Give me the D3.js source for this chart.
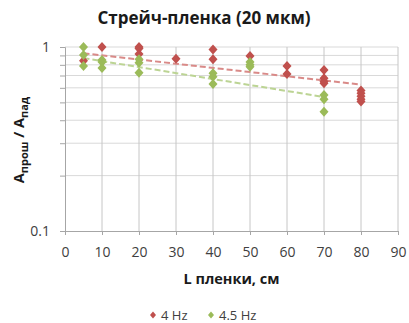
<!DOCTYPE html>
<html>
<head>
<meta charset="utf-8">
<script src="https://cdn.jsdelivr.net/npm/d3@7"></script>
<style>
  body { margin: 0; background: #fff; }
  text { font-family: "Open Sans", sans-serif; fill: #404040; }
</style>
</head>
<body>
<svg id="chart" width="409" height="323"></svg>
<script>
// 4 Hz series
const len4 = [5, 10, 20, 20, 20, 30, 40, 40, 50, 60, 60, 70, 70, 70, 70, 80, 80, 80, 80, 80]
const amp4 = [0.842, 1.0, 1.0, 0.98, 0.916, 0.864, 0.97, 0.857, 0.893, 0.788, 0.713, 0.75, 0.676, 0.65, 0.635, 0.58, 0.56, 0.54, 0.52, 0.505]
// 4.5 Hz series
const len45 = [5, 5, 5, 10, 10, 10, 20, 20, 20, 40, 40, 40, 50, 50, 50, 70, 70, 70]
const amp45 = [1.0, 0.905, 0.788, 0.85, 0.83, 0.77, 0.857, 0.82, 0.725, 0.72, 0.69, 0.63, 0.83, 0.80, 0.78, 0.548, 0.52, 0.445]
// exponential trend lines, endpoints
const trend4 = [[5, 0.924], [80, 0.625]]
const trend45 = [[5, 0.87], [70, 0.535]]

const xTicks = [0, 10, 20, 30, 40, 50, 60, 70, 80, 90]
const yMajor = [0.1, 1]
const yMinor = [0.2, 0.3, 0.4, 0.5, 0.6, 0.7, 0.8, 0.9]

const series = [
  { name: '4 Hz', x: len4, y: amp4, trend: trend4, color: '#c0504d', trendColor: '#d98a88' },
  { name: '4.5 Hz', x: len45, y: amp45, trend: trend45, color: '#9bbb59', trendColor: '#bcd494' }
]

const svg = d3.select('#chart')
const plotL = 65, plotR = 398, plotT = 47, plotB = 231

const x = d3.scaleLinear().domain([0, 90]).range([plotL, plotR])
const y = d3.scaleLog().domain([0.1, 1]).range([plotB, plotT])

// grid
const grid = svg.append('g')
grid.selectAll('line.hy')
  .data(yMinor.concat([1]))
  .enter().append('line')
  .attr('x1', plotL).attr('x2', plotR)
  .attr('y1', d => y(d)).attr('y2', d => y(d))
  .attr('stroke', '#d9d9d9').attr('stroke-width', 1)
grid.selectAll('line.vx')
  .data(xTicks.slice(1))
  .enter().append('line')
  .attr('x1', d => x(d)).attr('x2', d => x(d))
  .attr('y1', plotT).attr('y2', plotB)
  .attr('stroke', '#c6c6c6').attr('stroke-width', 1)

// axes
const xAxis = d3.axisBottom(x).tickValues(xTicks).tickSize(4).tickPadding(12).tickFormat(d3.format('d'))
const gx = svg.append('g').attr('transform', `translate(0,${plotB})`).call(xAxis)
const yAxis = d3.axisLeft(y).tickValues(yMajor.concat(yMinor)).tickSize(5).tickPadding(10)
  .tickFormat(d => yMajor.includes(d) ? String(d) : '')
const gy = svg.append('g').attr('transform', `translate(${plotL},0)`).call(yAxis)
for (const g of [gx, gy]) {
  g.select('.domain').attr('stroke', '#a6a6a6')
  g.selectAll('.tick line').attr('stroke', '#a6a6a6')
  g.selectAll('.tick text').style('font-size', '14px').attr('fill', '#404040')
    .style('font-family', '"Open Sans", sans-serif')
}

// trend lines
const line = d3.line().x(d => x(d[0])).y(d => y(d[1]))
svg.selectAll('path.trend')
  .data(series)
  .enter().append('path')
  .attr('class', 'trend')
  .attr('d', d => line(d.trend))
  .attr('fill', 'none')
  .attr('stroke', d => d.trendColor)
  .attr('stroke-width', 2)
  .attr('stroke-dasharray', '6,3')

// markers
const diamond = 'M0,-5L4.5,0L0,5L-4.5,0Z'
series.forEach(s => {
  svg.append('g').selectAll('path')
    .data(s.x.map((v, i) => [v, s.y[i]]))
    .enter().append('path')
    .attr('d', diamond)
    .attr('transform', d => `translate(${x(d[0])},${y(d[1])})`)
    .attr('fill', s.color)
})

// title
svg.append('text')
  .attr('x', 204).attr('y', 24)
  .attr('text-anchor', 'middle')
  .style('font-size', '17px').style('font-weight', 'bold')
  .style('fill', '#1a1a1a')
  .text('Стрейч-пленка (20 мкм)')

// x axis title
svg.append('text')
  .attr('x', (plotL + plotR) / 2).attr('y', 284)
  .attr('text-anchor', 'middle')
  .style('font-size', '14.5px').style('font-weight', 'bold')
  .style('fill', '#1a1a1a')
  .text('L пленки, см')

// y axis title
const yt = svg.append('text')
  .attr('transform', 'translate(24,140) rotate(-90)')
  .attr('text-anchor', 'middle')
  .style('font-size', '14.5px').style('font-weight', 'bold')
  .style('fill', '#1a1a1a')
yt.append('tspan').text('A')
yt.append('tspan').text('прош').attr('dy', 4).style('font-size', '11px')
yt.append('tspan').text(' / A').attr('dy', -4)
yt.append('tspan').text('пад').attr('dy', 4).style('font-size', '11px')

// legend
const legend = svg.append('g').attr('transform', 'translate(153,315)')
const items = legend.selectAll('g')
  .data(series)
  .enter().append('g')
  .attr('transform', (d, i) => `translate(${i * 58},0)`)
items.append('path')
  .attr('d', 'M0,-3.5L3,0L0,3.5L-3,0Z')
  .attr('fill', d => d.color)
items.append('text')
  .attr('x', 8).attr('y', 4.5)
  .style('font-size', '13px')
  .text(d => d.name)
</script>
</body>
</html>
